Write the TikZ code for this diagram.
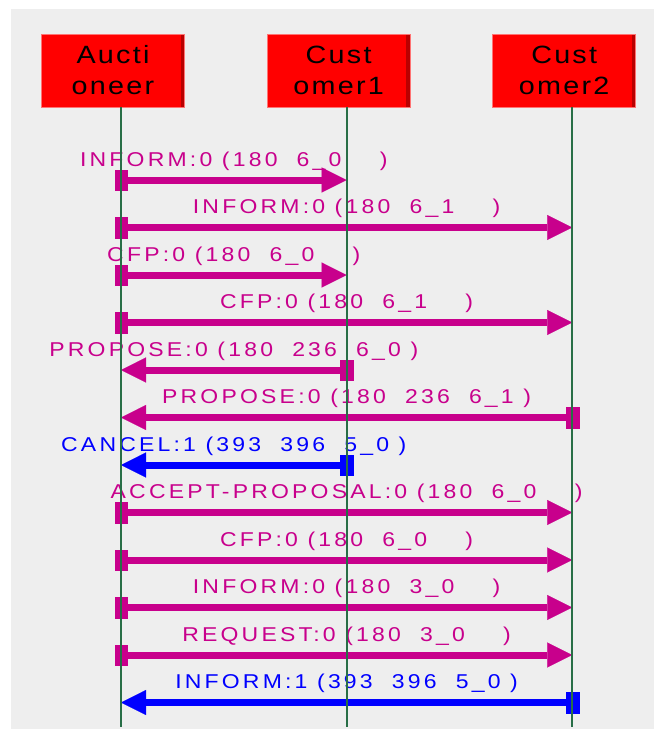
\documentclass[tikz,border=0pt]{standalone}
\usepackage{fontspec}
\usetikzlibrary{arrows.meta,positioning}
\newfontfamily\agentfont[FakeStretch=1.15,LetterSpace=9]{Liberation Sans}
\newfontfamily\msgfont[FakeStretch=1.15,LetterSpace=16]{Liberation Sans}

\definecolor{msgpink}{RGB}{200,0,140}
\definecolor{msgblue}{RGB}{0,0,255}
\definecolor{lifegreen}{RGB}{40,110,70}
\definecolor{canvasgrey}{RGB}{238,238,238}
\definecolor{agentred}{RGB}{255,0,0}
\definecolor{agentshade}{RGB}{185,0,0}

\begin{document}
\begin{tikzpicture}[x=1pt,y=-1pt,
    agent/.style={rectangle,fill=agentred,draw=agentred!55!white,line width=0.6pt,
      minimum width=143pt,minimum height=73pt,align=center,inner sep=0pt,
      font=\agentfont\fontsize{25}{31}\selectfont,
      path picture={\fill[agentshade] ([xshift=-4pt]path picture bounding box.north east)
        rectangle (path picture bounding box.south east);}},
    lifeline/.style={draw=lifegreen,line width=2pt},
    msg/.style={color=msgpink,line width=7pt,
      {Rectangle[length=13pt,width=21pt,line width=0.1pt]}-{Triangle[length=25pt,width=25pt,line width=0.1pt]},
      shorten <=-6.5pt},
    reply/.style={color=msgblue},
    lbl/.style={anchor=base,yshift=14pt,inner sep=0pt,
      font=\msgfont\fontsize{20}{24}\selectfont}]

  % canvas
  \useasboundingbox (0,0) rectangle (654,729);
  \fill[canvasgrey] (11,9) rectangle (654,729);

  % agents
  \node[agent] (auct) at (113,70.5) {Aucti\\oneer};
  \node[agent] (cust1) [right=82pt of auct] {Cust\\omer1};
  \node[agent] (cust2) [right=82pt of cust1] {Cust\\omer2};

  \coordinate (auct top) at ([xshift=8pt]auct.south);
  \coordinate (cust1 top) at ([xshift=8pt]cust1.south);
  \coordinate (cust2 top) at ([xshift=8pt]cust2.south);
  \coordinate (auct end) at (auct top |- 0,727);
  \coordinate (cust1 end) at (cust1 top |- 0,727);
  \coordinate (cust2 end) at (cust2 top |- 0,727);

  % one row of points per message
  \foreach \i [evaluate=\i as \y using 180+47.5*(\i-1)] in {1,...,12} {
    \coordinate (a\i) at (auct top |- 0,\y);
    \coordinate (b\i) at (cust1 top |- 0,\y);
    \coordinate (c\i) at (cust2 top |- 0,\y);
  }

  \path[msg]
    (a1) edge node[lbl] {INFORM:0 (180~~6\_0~~~~)} (b1)
    (a2) edge node[lbl] {INFORM:0 (180~~6\_1~~~~)} (c2)
    (a3) edge node[lbl] {CFP:0 (180~~6\_0~~~~)} (b3)
    (a4) edge node[lbl] {CFP:0 (180~~6\_1~~~~)} (c4)
    (b5) edge node[lbl] {PROPOSE:0 (180~~236~~6\_0~)} (a5)
    (c6) edge node[lbl] {PROPOSE:0 (180~~236~~6\_1~)} (a6)
    (b7) edge[reply] node[lbl] {CANCEL:1 (393~~396~~5\_0~)} (a7)
    (a8) edge node[lbl] {ACCEPT-PROPOSAL:0 (180~~6\_0~~~~)} (c8)
    (a9) edge node[lbl] {CFP:0 (180~~6\_0~~~~)} (c9)
    (a10) edge node[lbl] {INFORM:0 (180~~3\_0~~~~)} (c10)
    (a11) edge node[lbl] {REQUEST:0 (180~~3\_0~~~~)} (c11)
    (c12) edge[reply] node[lbl] {INFORM:1 (393~~396~~5\_0~)} (a12);

  % lifelines over the messages
  \draw[lifeline] (auct top) -- (auct end);
  \draw[lifeline] (cust1 top) -- (cust1 end);
  \draw[lifeline] (cust2 top) -- (cust2 end);
\end{tikzpicture}
\end{document}
